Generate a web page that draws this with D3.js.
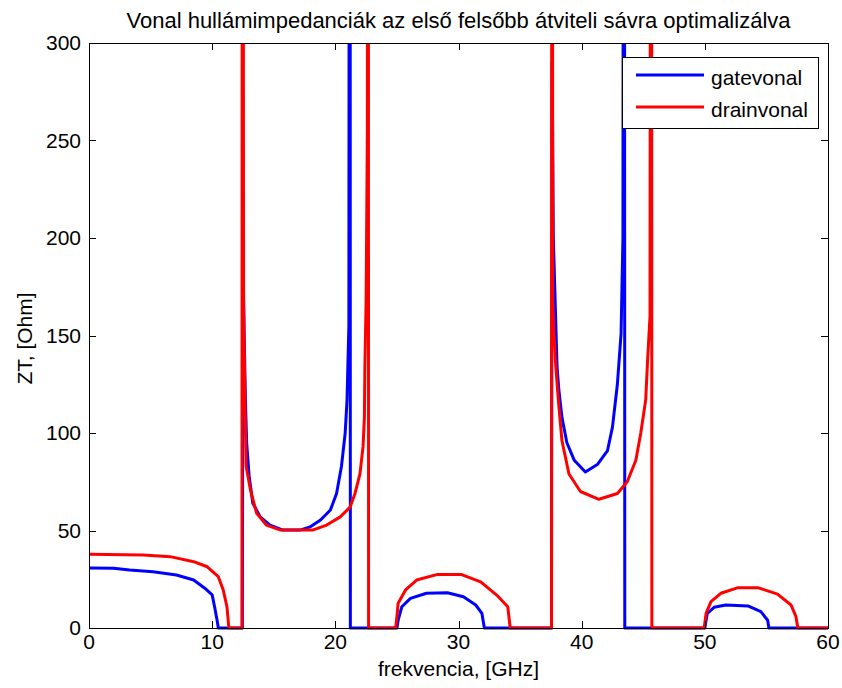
<!DOCTYPE html>
<html>
<head>
<meta charset="utf-8">
<script src="https://cdn.jsdelivr.net/npm/d3@7"></script>
<style>
  body { margin: 0; background: #fff; }
  text { font-family: "Liberation Sans", Arial, sans-serif; fill: #000; }
</style>
</head>
<body>
<svg id="chart"></svg>
<script>
const title = "Vonal hullámimpedanciák az első felsőbb átviteli sávra optimalizálva";
const xLabel = "frekvencia, [GHz]";
const yLabel = "ZT, [Ohm]";
const xTicks = [0, 10, 20, 30, 40, 50, 60];
const yTicks = [0, 50, 100, 150, 200, 250, 300];

// gatevonal (blue) -- values above 300 run off the top of the axes
const gateFreq = [0, 2, 3.3, 5.2, 7.1, 8.5, 9.4, 10, 10.2, 10.4, 10.5,
  12.45, 12.5, 12.6, 12.7, 12.8, 13.0, 13.3, 13.9, 14.7, 15.7, 17.2, 18.0, 18.8, 19.6, 20.1, 20.5, 20.8, 20.95, 21.1, 21.18, 21.22,
  25.0, 25.1, 25.4, 26.1, 27.4, 29.1, 30.4, 31.4, 31.9, 32.1,
  37.55, 37.6, 37.7, 38.0, 38.15, 38.4, 38.8, 39.4, 40.3, 41.3, 42.1, 42.5, 42.9, 43.2, 43.35, 43.45, 43.5,
  50.0, 50.2, 50.75, 51.7, 53.5, 54.55, 55.1, 55.2, 60];
const gateZ = [30.8, 30.6, 29.7, 28.9, 27.2, 24.6, 20.4, 17, 10.8, 4, 0,
  0, 190, 150, 117, 95, 78, 64, 57, 52.8, 50.3, 50.3, 52, 55.4, 60.5, 69, 83, 100, 117, 155, 1000, 0,
  0, 4, 10.9, 15.2, 17.8, 18.1, 16, 11.8, 7.5, 0,
  0, 290, 200, 134, 122, 108, 95, 86, 80, 84, 91, 103, 125, 151, 200, 1000, 0,
  0, 7.5, 10.6, 11.8, 11.3, 8.4, 4, 0, 0];

// drainvonal (red)
const drainFreq = [0, 4.4, 6.6, 8.5, 9.6, 10.5, 10.9, 11.2, 11.3, 11.35,
  12.42, 12.46, 12.55, 12.65, 12.76, 13.1, 13.6, 14.4, 15.5, 18.2, 19.3, 20.4, 21.2, 21.6, 22.0, 22.25, 22.36, 22.4, 22.5, 22.6, 22.66, 22.7,
  24.9, 25.0, 25.1, 25.7, 26.6, 28.3, 30.2, 31.8, 33.1, 34.0, 34.2,
  37.55, 37.6, 37.65, 37.75, 37.9, 38.15, 38.4, 38.97, 39.9, 41.4, 42.9, 43.7, 44.4, 44.8, 45.2, 45.35, 45.55, 45.65, 45.7,
  49.95, 50.1, 50.5, 51.3, 52.7, 54.3, 55.9, 57.0, 57.4, 57.55, 60];
const drainZ = [37.8, 37.4, 36.6, 34, 31.4, 26.3, 19.5, 10.9, 4, 0,
  0, 1000, 168, 120, 83, 71, 59, 52.8, 50.3, 50.3, 52.8, 57, 62, 69, 79, 93, 108, 134, 168, 255, 1000, 0,
  0, 5.8, 12.7, 19.5, 24.6, 27.5, 27.5, 23.7, 16.9, 10.9, 0,
  0, 1000, 168, 151, 134, 113.5, 96, 79, 70, 66, 69, 75, 86, 100, 117, 137, 160, 1000, 0,
  0, 7.5, 13.5, 17.8, 20.7, 20.7, 17.4, 11.8, 5.8, 0, 0];

const seriesNames = ["gatevonal", "drainvonal"];
const seriesColors = ["#0000ff", "#ff0000"];

const width = 842, height = 688;
const margin = { left: 89, top: 43, right: 14, bottom: 60 };
const plotW = width - margin.left - margin.right;
const plotH = height - margin.top - margin.bottom;

const svg = d3.select("#chart").attr("width", width).attr("height", height);

const x = d3.scaleLinear().domain([0, 60]).range([margin.left, margin.left + plotW]);
const y = d3.scaleLinear().domain([0, 300]).range([margin.top + plotH, margin.top]);

// clip only the top (MATLAB keeps the zero line full width)
svg.append("clipPath").attr("id", "clip")
   .append("rect")
   .attr("x", margin.left)
   .attr("y", margin.top)
   .attr("width", plotW)
   .attr("height", plotH + 10);

const line = d3.line().x(d => x(d[0])).y(d => y(d[1]));

const gateData = gateFreq.map((f, i) => [f, gateZ[i]]);
const drainData = drainFreq.map((f, i) => [f, drainZ[i]]);

const plot = svg.append("g").attr("clip-path", "url(#clip)");
[gateData, drainData].forEach((data, i) => {
    plot.append("path")
        .datum(data)
        .attr("fill", "none")
        .attr("stroke", seriesColors[i])
        .attr("stroke-width", 3)
        .attr("stroke-linejoin", "round")
        .attr("d", line);
});

// axes box with inward ticks on all sides
const tickLen = 7;
const frame = svg.append("g").attr("stroke", "#000").attr("stroke-width", 1);
frame.append("rect")
     .attr("x", margin.left + 0.5)
     .attr("y", margin.top + 0.5)
     .attr("width", plotW)
     .attr("height", plotH)
     .attr("fill", "none");

xTicks.forEach(t => {
    const px = Math.round(x(t)) + 0.5;
    frame.append("line").attr("x1", px).attr("x2", px)
         .attr("y1", margin.top + plotH).attr("y2", margin.top + plotH - tickLen);
    frame.append("line").attr("x1", px).attr("x2", px)
         .attr("y1", margin.top).attr("y2", margin.top + tickLen);
});
yTicks.forEach(t => {
    const py = Math.round(y(t)) + 0.5;
    frame.append("line").attr("y1", py).attr("y2", py)
         .attr("x1", margin.left).attr("x2", margin.left + tickLen);
    frame.append("line").attr("y1", py).attr("y2", py)
         .attr("x1", margin.left + plotW).attr("x2", margin.left + plotW - tickLen);
});

// tick labels
svg.append("g").selectAll("text")
   .data(xTicks).enter().append("text")
   .attr("x", d => x(d))
   .attr("y", margin.top + plotH + 21)
   .attr("text-anchor", "middle")
   .attr("font-size", 21)
   .text(d => d);

svg.append("g").selectAll("text")
   .data(yTicks).enter().append("text")
   .attr("x", margin.left - 8)
   .attr("y", d => y(d) + 7)
   .attr("text-anchor", "end")
   .attr("font-size", 21)
   .text(d => d);

// labels and title
svg.append("text")
   .attr("x", x(30))
   .attr("y", 676)
   .attr("text-anchor", "middle")
   .attr("font-size", 21)
   .text(xLabel);

svg.append("text")
   .attr("transform", `translate(32, ${y(150) + 3}) rotate(-90)`)
   .attr("text-anchor", "middle")
   .attr("font-size", 21)
   .text(yLabel);

svg.append("text")
   .attr("x", x(30))
   .attr("y", 28)
   .attr("text-anchor", "middle")
   .attr("font-size", 22)
   .text(title);

// legend
const legend = svg.append("g");
legend.append("rect")
      .attr("x", 622.5).attr("y", 57.5)
      .attr("width", 196).attr("height", 71)
      .attr("fill", "#fff")
      .attr("stroke", "#000");
seriesNames.forEach((name, i) => {
    const ly = 75 + i * 32;
    legend.append("line")
          .attr("x1", 636).attr("x2", 704)
          .attr("y1", ly).attr("y2", ly)
          .attr("stroke", seriesColors[i])
          .attr("stroke-width", 3);
    legend.append("text")
          .attr("x", 711).attr("y", ly + 10)
          .attr("font-size", 21)
          .text(name);
});
</script>
</body>
</html>
